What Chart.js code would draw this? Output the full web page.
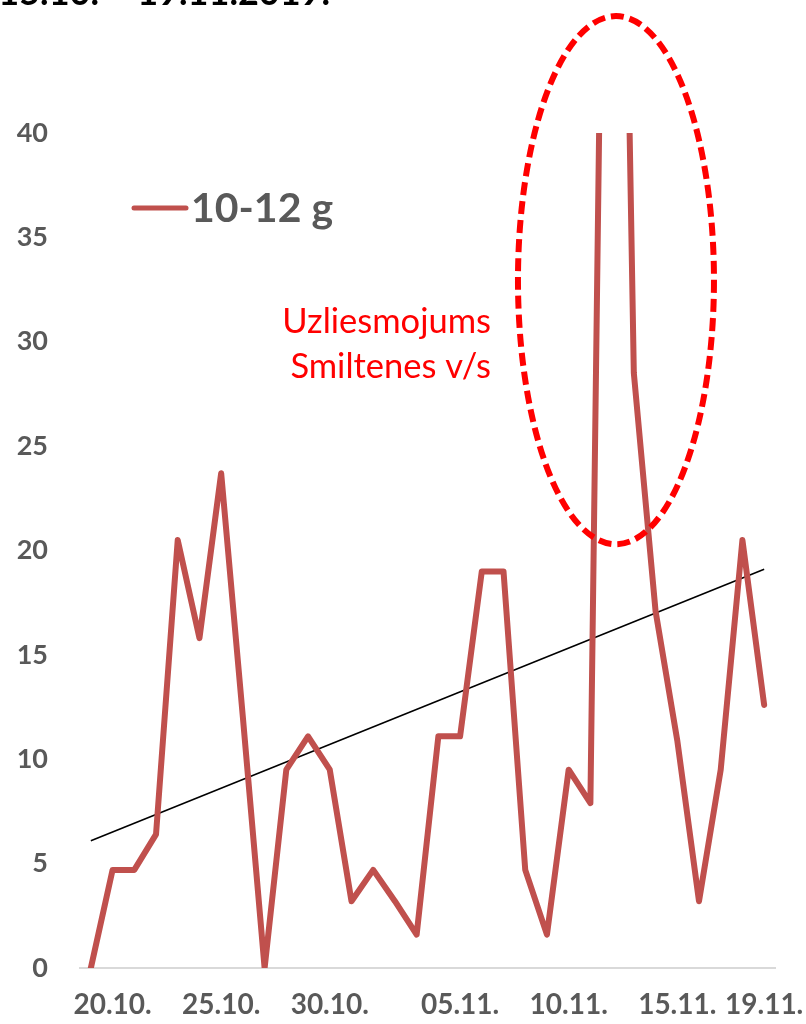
<!DOCTYPE html>
<html>
<head>
<meta charset="utf-8">
<script src="https://cdn.jsdelivr.net/npm/chart.js@4"></script>
<style>
  html, body { margin: 0; padding: 0; background: #fff; }
  canvas { display: block; }
</style>
</head>
<body>
<canvas id="chart" width="806" height="1024"></canvas>
<script>
// Data
const days = [
  "19.10.", "20.10.", "21.10.", "22.10.", "23.10.", "24.10.", "25.10.", "26.10.",
  "27.10.", "28.10.", "29.10.", "30.10.", "31.10.", "01.11.", "02.11.", "03.11.",
  "04.11.", "05.11.", "06.11.", "07.11.", "08.11.", "09.11.", "10.11.", "11.11.",
  "12.11.", "13.11.", "14.11.", "15.11.", "16.11.", "17.11.", "18.11.", "19.11."
];
const cases = [
  0, 4.7, 4.7, 6.4, 20.5, 15.8, 23.7, 12.0,
  0, 9.5, 11.1, 9.5, 3.2, 4.7, 3.2, 1.6,
  11.1, 11.1, 19.0, 19.0, 4.7, 1.6, 9.5, 7.9,
  88, 28.5, 17.1, 10.9, 3.2, 9.5, 20.5, 12.6
];
// trend line: only the two ends are known, gap spanned by the line
const trend = days.map(() => null);
trend[0] = 6.1;
trend[days.length - 1] = 19.1;

const shownDays = ["20.10.", "25.10.", "30.10.", "05.11.", "10.11.", "15.11.", "19.11."];
const yTicks = [0, 5, 10, 15, 20, 25, 30, 35, 40];

const seriesName = "10-12 g";
const titleText = "15.10. – 19.11.2019.";
const noteLines = ["Uzliesmojums", "Smiltenes v/s"];

const GREY = "#595959";
const RED_LINE = "#c0504d";

// title, legend, note and ellipse drawn on top
const extras = {
  id: "extras",
  afterDraw(chart) {
    const { ctx, scales: { x, y } } = chart;
    ctx.save();

    // title (cut off at the top)
    ctx.font = "bold 36px Lato";
    ctx.fillStyle = "#000";
    ctx.textAlign = "right";
    ctx.textBaseline = "alphabetic";
    ctx.fillText(titleText, 330, 5);

    // legend
    ctx.strokeStyle = RED_LINE;
    ctx.lineWidth = 5;
    ctx.lineCap = "round";
    ctx.beginPath();
    ctx.moveTo(134, 208);
    ctx.lineTo(186, 208);
    ctx.stroke();
    ctx.font = "bold 41px Lato";
    ctx.fillStyle = GREY;
    ctx.textAlign = "left";
    ctx.textBaseline = "middle";
    ctx.fillText(seriesName, 191, 209);

    // note
    ctx.font = "34.5px Lato";
    ctx.fillStyle = "#ff0000";
    ctx.textAlign = "right";
    ctx.fillText(noteLines[0], 491, 322);
    ctx.fillText(noteLines[1], 491, 367);

    // dashed ellipse round the outbreak
    const cx = (x.getPixelForValue(24) + x.getPixelForValue(25)) / 2 - 7;
    const top = y.getPixelForValue(45.6);
    const bottom = y.getPixelForValue(20.3);
    ctx.strokeStyle = "#ff0000";
    ctx.lineWidth = 6;
    ctx.lineCap = "butt";
    ctx.setLineDash([13, 6]);
    ctx.beginPath();
    ctx.ellipse(cx, (top + bottom) / 2, 98, (bottom - top) / 2, 0, 0, Math.PI * 2);
    ctx.stroke();

    ctx.restore();
  }
};

new Chart(document.getElementById("chart"), {
  type: "line",
  data: {
    labels: days,
    datasets: [
      {
        label: seriesName,
        data: cases,
        borderColor: RED_LINE,
        borderWidth: 6,
        borderJoinStyle: "round",
        borderCapStyle: "round",
        pointRadius: 0,
        tension: 0,
        clip: 0
      },
      {
        label: "trend",
        data: trend,
        borderColor: "#000",
        borderWidth: 1.6,
        pointRadius: 0,
        spanGaps: true,
        clip: false
      }
    ]
  },
  options: {
    responsive: false,
    animation: false,
    layout: { padding: { top: 133, right: 31, bottom: 0, left: 0 } },
    plugins: {
      legend: { display: false },
      tooltip: { enabled: false }
    },
    scales: {
      x: {
        offset: true,
        grid: { display: false, drawTicks: false },
        border: { display: true, color: "#d9d9d9", width: 2 },
        ticks: {
          autoSkip: false,
          maxRotation: 0,
          padding: 20,
          color: GREY,
          font: { family: "Lato", weight: "bold", size: 28 },
          callback(value) {
            const d = days[value];
            return shownDays.includes(d) ? d : "";
          }
        },
        afterFit(scale) {
          scale.height = 56;
          scale.paddingLeft = 0;
          scale.paddingRight = 0;
        }
      },
      y: {
        min: 0,
        max: 40,
        grid: { display: false, drawTicks: false },
        border: { display: false },
        afterBuildTicks(scale) { scale.ticks = yTicks.map(v => ({ value: v })); },
        ticks: {
          padding: 32,
          color: GREY,
          font: { family: "Lato", weight: "bold", size: 27 }
        },
        afterFit(scale) {
          scale.width = 80;
          scale.paddingTop = 0;
          scale.paddingBottom = 0;
        }
      }
    }
  },
  plugins: [extras]
});
</script>
</body>
</html>
